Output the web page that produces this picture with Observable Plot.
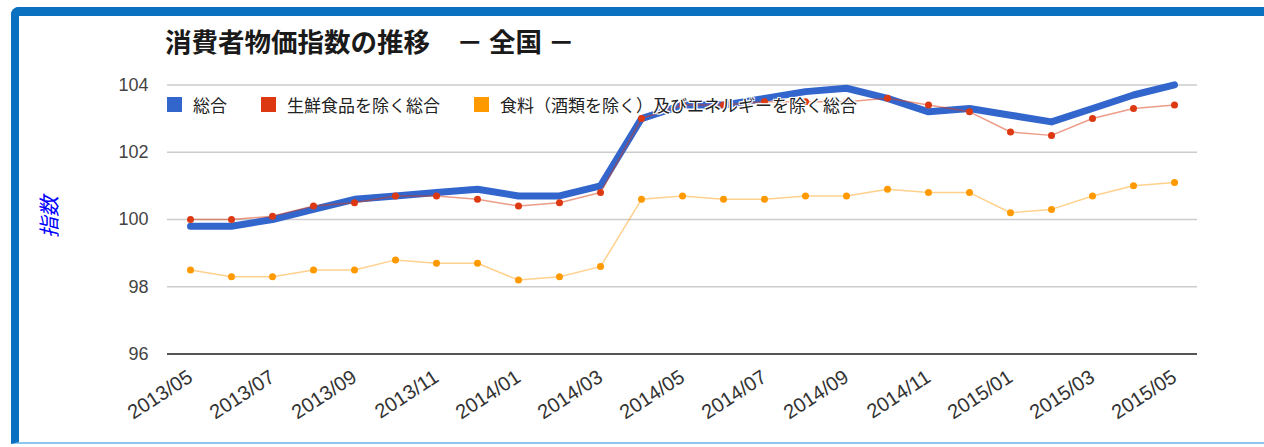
<!DOCTYPE html>
<html>
<head>
<meta charset="utf-8">
<script src="https://cdn.jsdelivr.net/npm/d3@7"></script>
<script src="https://cdn.jsdelivr.net/npm/@observablehq/plot@0.6"></script>
<style>
  html, body { margin: 0; padding: 0; background: #fff; }
  #wrap { position: relative; width: 1264px; height: 447px; overflow: hidden; font-family: "Liberation Sans", Arial, sans-serif; }
  #frame { position: absolute; left: 11px; top: 7px; width: 1300px; height: 437px;
           border-top: 9px solid #0a70c0; border-left: 8px solid #0a70c0; border-bottom: 2px solid #8ec5ee;
           border-top-left-radius: 8px; box-sizing: border-box; }
  #title { position: absolute; left: 165px; top: 26px; font-family: "Noto Sans CJK JP", sans-serif; font-size: 26.5px;
           font-weight: bold; color: #1a1a1a; white-space: pre; line-height: 30px; }
  #chart { position: absolute; left: 0; top: 0; }
  #legend { position: absolute; left: 167px; top: 92px; display: flex; align-items: center;
            font-family: "Noto Sans CJK JP", sans-serif; font-size: 17px; color: #222; white-space: nowrap; }
  #legend .item { display: flex; align-items: center; margin-right: 34px; }
  #legend .sw { width: 15px; height: 15px; margin-right: 11px; }
  #legend .lab { text-shadow: 0 0 2px #fff, 0 0 2px #fff, 1px 1px 0 #fff, -1px -1px 0 #fff, 1px -1px 0 #fff, -1px 1px 0 #fff; }
  #ytitle { position: absolute; left: 48px; top: 217px; transform: translate(-50%, -50%) rotate(-90deg);
            font-family: "Noto Sans CJK JP", sans-serif; font-size: 21px; font-style: italic; color: #0000ff; white-space: nowrap; }
</style>
</head>
<body>
<div id="wrap">
  <div id="frame"></div>
  <div id="chart"></div>
  <div id="title"></div>
  <div id="legend"></div>
  <div id="ytitle"></div>
</div>
<script>
// ---- data ----
const months = ["2013/05","2013/06","2013/07","2013/08","2013/09","2013/10","2013/11","2013/12",
                "2014/01","2014/02","2014/03","2014/04","2014/05","2014/06","2014/07","2014/08",
                "2014/09","2014/10","2014/11","2014/12","2015/01","2015/02","2015/03","2015/04","2015/05"];
const seriesNames = ["総合", "生鮮食品を除く総合", "食料（酒類を除く）及びエネルギーを除く総合"];
const sogo      = [99.8, 99.8, 100.0, 100.3, 100.6, 100.7, 100.8, 100.9, 100.7, 100.7, 101.0, 103.0, 103.4, 103.4, 103.6, 103.8, 103.9, 103.6, 103.2, 103.3, 103.1, 102.9, 103.3, 103.7, 104.0];
const core      = [100.0, 100.0, 100.1, 100.4, 100.5, 100.7, 100.7, 100.6, 100.4, 100.5, 100.8, 103.0, 103.4, 103.4, 103.5, 103.5, 103.5, 103.6, 103.4, 103.2, 102.6, 102.5, 103.0, 103.3, 103.4];
const coreCore  = [98.5, 98.3, 98.3, 98.5, 98.5, 98.8, 98.7, 98.7, 98.2, 98.3, 98.6, 100.6, 100.7, 100.6, 100.6, 100.7, 100.7, 100.9, 100.8, 100.8, 100.2, 100.3, 100.7, 101.0, 101.1];
const yTicks = [96, 98, 100, 102, 104];
const xTickLabels = ["2013/05","2013/07","2013/09","2013/11","2014/01","2014/03","2014/05","2014/07","2014/09","2014/11","2015/01","2015/03","2015/05"];
const colors = ["#3366cc", "#dc3912", "#ff9900"];
const titleText = "消費者物価指数の推移　－ 全国 －";
const yTitle = "指数";

// ---- build ----
const rows = (vals) => months.map((m, i) => ({month: m, value: vals[i]}));
const dSogo = rows(sogo), dCore = rows(core), dCC = rows(coreCore);

const chart = Plot.plot({
  width: 1264,
  height: 447,
  marginLeft: 167,
  marginRight: 67,
  marginTop: 84.4,
  marginBottom: 93.4,
  style: {fontFamily: "'Liberation Sans', Arial, sans-serif", background: "transparent", overflow: "visible"},
  x: {type: "point", domain: months, padding: 0.5},
  y: {domain: [96, 104]},
  marks: [
    Plot.gridY(yTicks, {stroke: "#cccccc", strokeOpacity: 1, strokeWidth: 1.5}),
    Plot.ruleY([96], {stroke: "#555", strokeWidth: 2}),
    Plot.axisY(yTicks, {tickSize: 0, tickPadding: 19, fontSize: 18, fill: "#444", label: null}),
    Plot.axisX(xTickLabels, {tickSize: 0, tickPadding: 21, tickRotate: -33, fontSize: 20, fill: "#333", label: null}),
    Plot.line(dSogo, {x: "month", y: "value", stroke: colors[0], strokeWidth: 7, strokeLinejoin: "round", strokeLinecap: "round"}),
    Plot.line(dCore, {x: "month", y: "value", stroke: colors[1], strokeWidth: 1.5, strokeOpacity: 0.5}),
    Plot.dot(dCore, {x: "month", y: "value", fill: colors[1], r: 3.5}),
    Plot.line(dCC, {x: "month", y: "value", stroke: colors[2], strokeWidth: 1.5, strokeOpacity: 0.45}),
    Plot.dot(dCC, {x: "month", y: "value", fill: colors[2], r: 3.5})
  ]
});
document.getElementById("chart").appendChild(chart);

document.getElementById("title").textContent = titleText;
document.getElementById("ytitle").textContent = yTitle;
const legend = document.getElementById("legend");
seriesNames.forEach((name, i) => {
  const it = document.createElement("div");
  it.className = "item";
  const sw = document.createElement("div");
  sw.className = "sw";
  sw.style.background = colors[i];
  const lab = document.createElement("span");
  lab.className = "lab";
  lab.textContent = name;
  it.appendChild(sw); it.appendChild(lab);
  legend.appendChild(it);
});
</script>
</body>
</html>
